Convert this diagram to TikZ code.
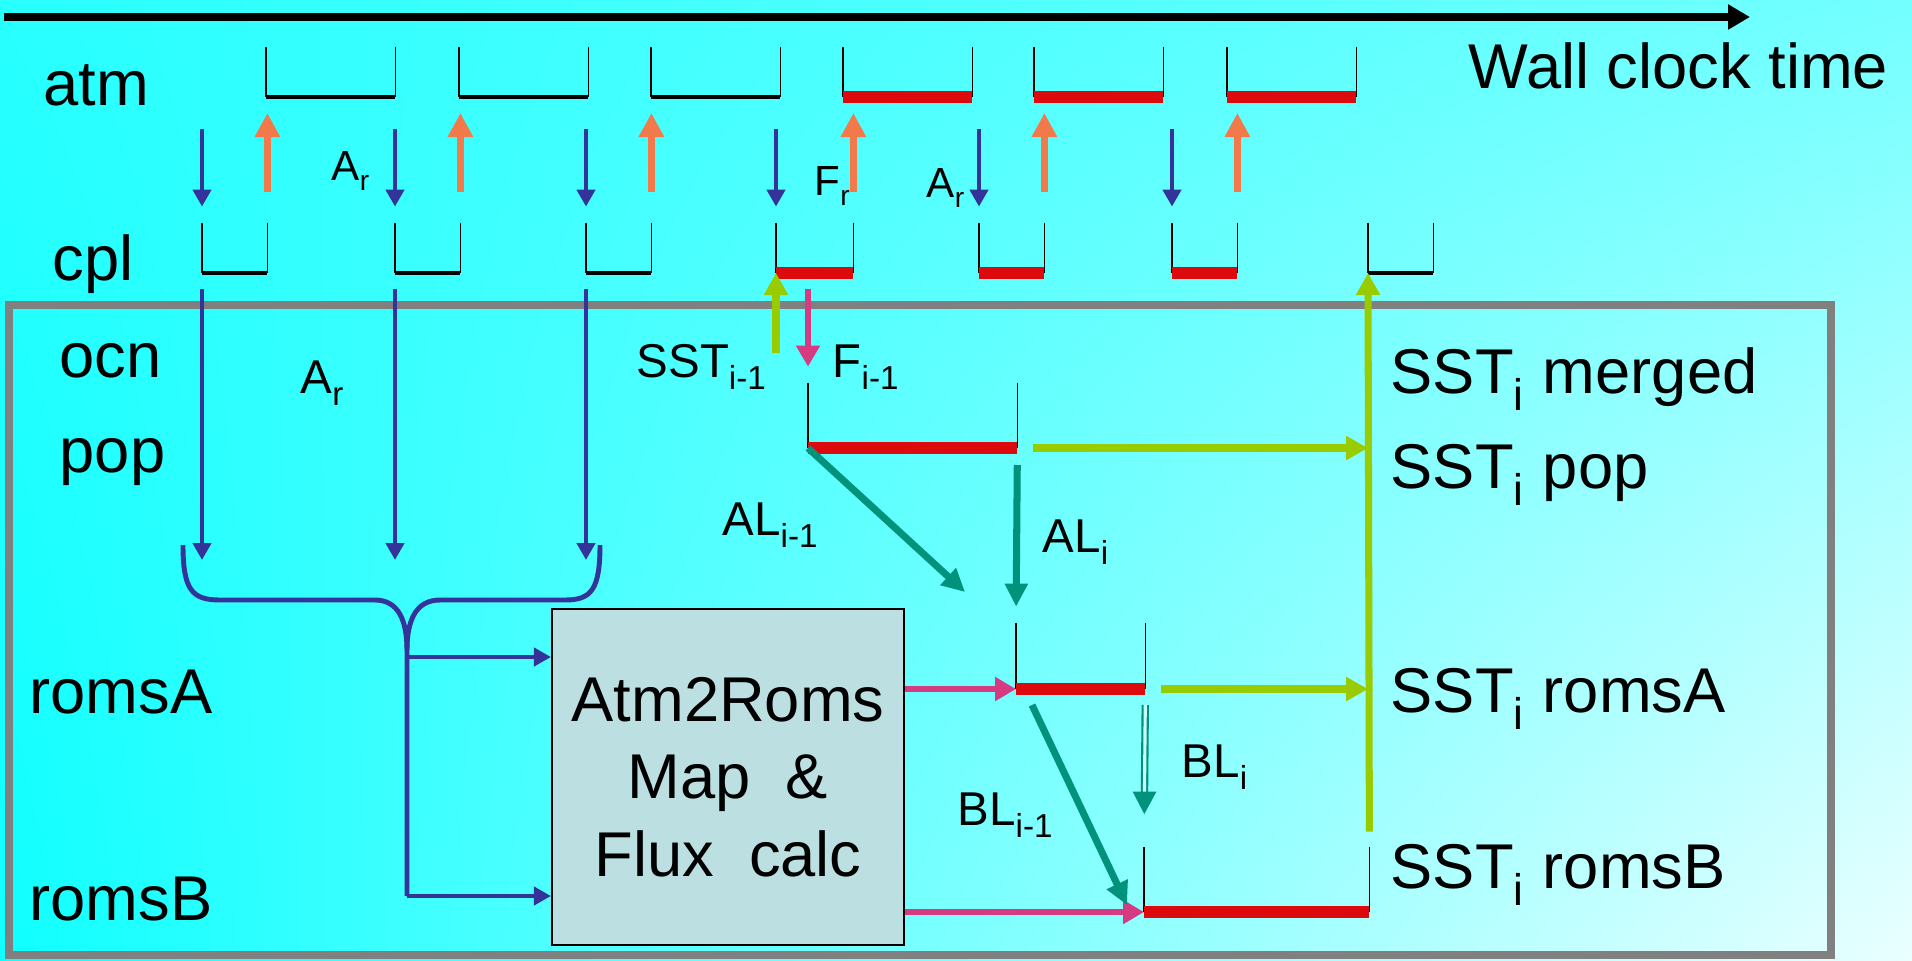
\documentclass[tikz,border=0pt]{standalone}
\usepackage{fontspec}
\setmainfont{Liberation Sans}
\usepackage{tikz}
\usepackage{xcolor}
\usetikzlibrary{arrows.meta, shadings}
\definecolor{cBlue}{RGB}{51,51,153}
\definecolor{cOrange}{RGB}{242,122,74}
\definecolor{cPink}{RGB}{214,58,128}
\definecolor{cTeal}{RGB}{0,146,122}
\definecolor{cLime}{RGB}{153,204,0}
\definecolor{cBar}{RGB}{220,10,12}
\definecolor{cBox}{RGB}{188,224,226}
\definecolor{cFrame}{RGB}{128,128,128}
\definecolor{cGap}{RGB}{205,255,255}
\definecolor{bgUL}{RGB}{40,255,255}
\definecolor{bgUR}{RGB}{115,255,255}
\definecolor{bgLL}{RGB}{15,255,255}
\definecolor{bgLR}{RGB}{235,255,255}
\newcommand{\bigf}{\fontsize{18}{22}\selectfont}
\newcommand{\midf}{\fontsize{13.5}{16}\selectfont}
\newcommand{\smf}{\fontsize{12}{14}\selectfont}
\newcommand{\lo}[1]{\raisebox{-0.1em}{\textsubscript{#1}}}
\tikzset{
	% timeline slots
	slot/.style    ={rectangle, inner sep=0pt, anchor=south west, minimum height=4.9mm},
	side/.style    ={black, line width=0.5pt},
	barK/.style    ={black, line width=1.4pt},
	barR/.style    ={cBar, line width=3.4pt},
	frame/.style   ={cFrame, line width=2.3pt},
	mapbox/.style  ={rectangle, draw=black, line width=0.6pt, fill=cBox, align=center, font=\bigf},
	% text
	lbl/.style     ={anchor=base west, inner sep=0pt, font=\bigf},
	midlbl/.style  ={anchor=base west, inner sep=0pt, font=\midf},
	smlbl/.style   ={anchor=base west, inner sep=0pt, font=\smf},
	% exchange arrows
	downA/.style   ={cBlue, line width=1.4pt, -{Triangle[length=1.7mm, width=1.8mm]}},
	fanline/.style ={cBlue, line width=1.4pt},
	upF/.style     ={cOrange, line width=2pt, -{Triangle[length=2.4mm, width=2.4mm]}},
	sstflow/.style ={cLime, line width=2pt, -{Triangle[length=2.2mm, width=2.3mm]}},
	fluxflow/.style={cPink, line width=1.7pt, -{Triangle[length=2.1mm, width=2.3mm]}},
	loadflow/.style={cTeal, line width=2pt, -{Triangle[length=2.3mm, width=2.2mm]}},
}
\begin{document}
\begin{tikzpicture}[x=0.1mm, y=-0.1mm]
	\shade[upper left=bgUL, upper right=bgUR, lower left=bgLL, lower right=bgLR] (0,0) rectangle (1912,960);
	\useasboundingbox (0,0) rectangle (1912,960);
	\coordinate (t0) at (4,17);
	\coordinate (t1) at (1750,17);
	\draw[black, line width=2.3pt, -{Triangle[length=2.2mm, width=2.4mm]}] (t0) -- (t1);
	\draw[frame] (9,305) rectangle (1831,955);
	\node[lbl] (lWall) at (1468,88) {Wall clock time};
	\node[lbl] (lAtm) at (43,105) {atm};
	\node[lbl] (lCpl) at (52,280) {cpl};
	\node[lbl] (lOcn) at (59,377) {ocn};
	\node[lbl] (lPop) at (59,472) {pop};
	\node[lbl] (lRomsA) at (29,713) {romsA};
	\node[lbl] (lRomsB) at (29,920) {romsB};
	\foreach \i/\x in {1/266,2/459,3/651,4/843,5/1034,6/1227}
		\node[slot, minimum width=12.8mm] (atm\i) at (\x,97) {};
	\foreach \i/\x/\w in {1/202/6.4,2/395/6.4,3/586/6.4,4/776/7.6,5/979/6.4,6/1172/6.4,7/1368/6.4}
		\node[slot, minimum width=\w mm] (cpl\i) at (\x,273) {};
	\node[slot, minimum width=20.8mm, minimum height=6.4mm] (pop) at (808,448) {};
	\node[slot, minimum width=12.8mm, minimum height=6.5mm] (romsA) at (1016,689) {};
	\node[slot, minimum width=22.4mm, minimum height=6.4mm] (romsB) at (1144,912) {};
	\foreach \s/\b in {atm1/barK,atm2/barK,atm3/barK,atm4/barR,atm5/barR,atm6/barR,cpl1/barK,cpl2/barK,cpl3/barK,cpl4/barR,cpl5/barR,cpl6/barR,cpl7/barK,pop/barR,romsA/barR,romsB/barR}{
		\draw[side] (\s.north west) -- (\s.south west) (\s.north east) -- (\s.south east);
		\draw[\b] (\s.south west) -- (\s.south east);
	}
	\foreach \i in {1,...,6}{
		\draw[downA, shorten <=3.2mm, shorten >=1.6mm] (cpl\i.north west |- atm1.south) -- (cpl\i.north west);
		\draw[upF, shorten <=3.1mm, shorten >=1.6mm] (cpl\i.north east) -- (cpl\i.north east |- atm1.south);
	}
	\node[smlbl] (ar1) at (331,180) {A\lo{r}};
	\node[smlbl] (fr) at (814,195) {F\lo{r}};
	\node[smlbl] (ar2) at (926,197) {A\lo{r}};
	\coordinate (fan) at (0,560);
	\foreach \i in {1,2,3}
		\draw[downA, shorten <=1.6mm] (cpl\i.south west) -- (cpl\i.south west |- fan);
	\node[midlbl] (ar3) at (300,393) {A\lo{r}};
	\node[mapbox, minimum width=35.2mm, minimum height=33.6mm] (map) at (728,777) {Atm2Roms\\Map\ \ \&\\Flux\ \ calc};
	\coordinate (jA) at (407,657);
	\coordinate (jB) at (407,896);
	\draw[fanline] (183,545) .. controls (183,590) and (192,600) .. (220,600) -- (375,600) .. controls (398,600) and (407,620) .. (407,650) -- (jB);
	\draw[fanline] (600,545) .. controls (600,590) and (591,600) .. (565,600) -- (440,600) .. controls (416,600) and (407,620) .. (407,650);
	\draw[downA] (jA) -- (jA -| map.west);
	\draw[downA] (jB) -- (jB -| map.west);
	\draw[fluxflow] (map.east |- romsA.south) -- (romsA.south west);
	\draw[fluxflow] (map.east |- romsB.south) -- (romsB.south west);
	\coordinate (sst0) at (776,353);
	\draw[sstflow] (sst0) -- (cpl4.south west);
	\draw[fluxflow, shorten <=1.6mm, shorten >=1.6mm] (pop.north west |- cpl4.south) -- (pop.north west);
	\node[midlbl] (sstOld) at (636,377) {SST\lo{i-1}};
	\node[midlbl] (fOld) at (832,377) {F\lo{i-1}};
	\draw[sstflow, shorten <=1.5mm] (romsB.north east) -- (cpl7.south west);
	\draw[sstflow, shorten <=1.6mm] (pop.south east) -- (pop.south east -| cpl7.south west);
	\draw[sstflow, shorten <=1.6mm] (romsA.south east) -- (romsA.south east -| cpl7.south west);
	\node[lbl] (sstM) at (1390,393) {SST\lo{i} merged};
	\node[lbl] (sstP) at (1390,488) {SST\lo{i} pop};
	\node[lbl] (sstA) at (1390,712) {SST\lo{i} romsA};
	\node[lbl] (sstB) at (1390,888) {SST\lo{i} romsB};
	\coordinate (al1) at (965,592);
	\draw[loadflow] (pop.south west) -- (al1);
	\draw[loadflow, shorten <=1.7mm, shorten >=1.6mm] (pop.south east) -- (romsA.north west);
	\coordinate (bl0) at (1032,705);
	\coordinate (bl1) at (1127,905);
	\draw[loadflow] (bl0) -- (bl1);
	\draw[loadflow, line width=2.1pt, shorten <=1.6mm, shorten >=3.2mm] (romsA.south east) -- (romsB.north west);
	\draw[cGap, line width=0.9pt, shorten <=1.6mm, shorten >=5.5mm] (romsA.south east) -- (romsB.north west);
	\node[midlbl] (alOld) at (722,535) {AL\lo{i-1}};
	\node[midlbl] (alNew) at (1042,552) {AL\lo{i}};
	\node[midlbl] (blNew) at (1181,777) {BL\lo{i}};
	\node[midlbl] (blOld) at (957,825) {BL\lo{i-1}};
\end{tikzpicture}
\end{document}
